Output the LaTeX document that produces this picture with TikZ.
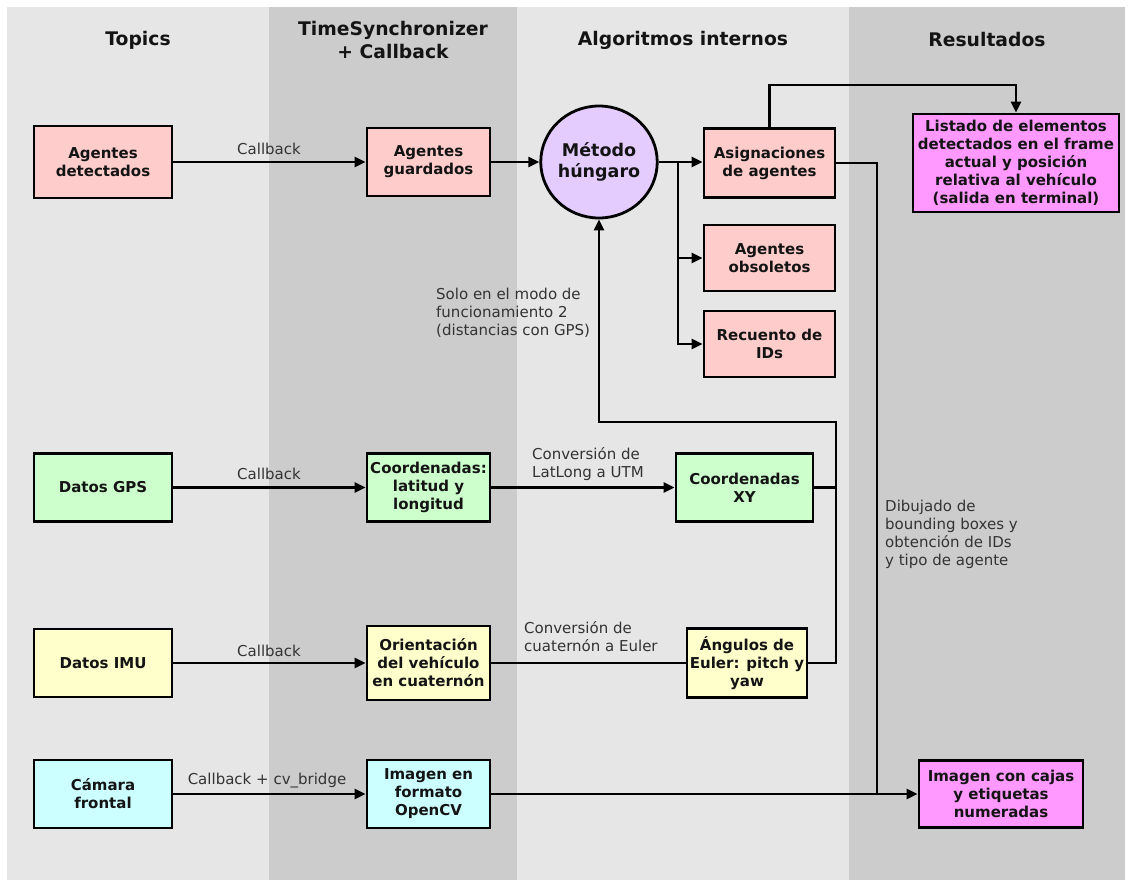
\documentclass[tikz,border=0pt]{standalone}
\usepackage{fontspec}
\setmainfont{DejaVu Sans}
\usetikzlibrary{arrows.meta,shapes.geometric}

\definecolor{laneLight}{HTML}{E6E6E6}
\definecolor{laneDark}{HTML}{CCCCCC}
\definecolor{agentFill}{HTML}{FFCCCC}
\definecolor{methodFill}{HTML}{E5CCFF}
\definecolor{gpsFill}{HTML}{CCFFCC}
\definecolor{imuFill}{HTML}{FFFFCC}
\definecolor{camFill}{HTML}{CCFFFF}
\definecolor{outFill}{HTML}{FF99FF}
\definecolor{labelText}{HTML}{333333}
\definecolor{boxText}{HTML}{141414}

\tikzset{
  box/.style={draw=black, line width=2.8pt, align=center, text=boxText,
    font=\bfseries\fontsize{15}{18}\selectfont, inner sep=1pt},
  hdr/.style={align=center, text=boxText, font=\bfseries\fontsize{18.75}{22.5}\selectfont},
  lbl/.style={text=labelText, font=\fontsize{15}{18}\selectfont, inner sep=0pt},
  ln/.style={line width=2.5pt, draw=black},
  arr/.style={ln, -{Triangle[length=11pt,width=10pt]}},
}

\begin{document}
\begin{tikzpicture}[x=1pt,y=-1pt]
\useasboundingbox (0,0) rectangle (1132,883);
\fill[white] (0,0) rectangle (1132,883);

% swimlanes
\fill[laneLight] (7,7) rectangle (269,880);
\fill[laneDark] (269,7) rectangle (517,880);
\fill[laneLight] (517,7) rectangle (849,880);
\fill[laneDark] (849,7) rectangle (1125,880);

% lane titles
\node[hdr] (hTopics) at (138,40) {Topics};
\node[hdr] (hSync) at (393,40) {TimeSynchronizer\\+ Callback};
\node[hdr] (hAlg) at (683,40) {Algoritmos internos};
\node[hdr] (hRes) at (987,40) {Resultados};

% detection row
\node[box, fill=agentFill, minimum width=138pt, minimum height=72pt] (det) at (103,162) {Agentes\\detectados};
\node[box, fill=agentFill, minimum width=123pt, minimum height=68pt] (guard) at (428.5,162) {Agentes\\guardados};
\node[box, ellipse, fill=methodFill, minimum width=110pt, minimum height=112pt, inner sep=0pt,
  font=\bfseries\fontsize{17.5}{20.5}\selectfont] (met) at (599,162) {Método\\húngaro};
\node[box, fill=agentFill, minimum width=131pt, minimum height=69pt] (asig) at (769.5,163) {Asignaciones\\de agentes};
\node[box, fill=agentFill, minimum width=131pt, minimum height=66pt] (obs) at (769.5,258) {Agentes\\obsoletos};
\node[box, fill=agentFill, minimum width=131pt, minimum height=66pt] (rec) at (769.5,344) {Recuento de\\IDs};
\node[box, fill=outFill, minimum width=206pt, minimum height=98pt] (list) at (1016,163) {Listado de elementos\\detectados en el frame\\actual y posición\\relativa al vehículo\\(salida en terminal)};

% GPS row
\node[box, fill=gpsFill, minimum width=138pt, minimum height=68pt] (gps) at (103,487.5) {Datos GPS};
\node[box, fill=gpsFill, minimum width=123pt, minimum height=68pt] (coord) at (428.5,487.5) {Coordenadas:\\latitud y\\longitud};
\node[box, fill=gpsFill, minimum width=137pt, minimum height=68pt] (xy) at (744.5,487.5) {Coordenadas\\XY};

% IMU row
\node[box, fill=imuFill, minimum width=138pt, minimum height=68pt] (imu) at (103,663) {Datos IMU};
\node[box, fill=imuFill, minimum width=123pt, minimum height=74pt] (ori) at (428.5,663) {Orientación\\del vehículo\\en cuaternón};
\node[box, fill=imuFill, minimum width=120pt, minimum height=69pt] (eul) at (747,663) {Ángulos de\\Euler: pitch y\\yaw};

% camera row
\node[box, fill=camFill, minimum width=138pt, minimum height=68pt] (cam) at (103,794) {Cámara\\frontal};
\node[box, fill=camFill, minimum width=123pt, minimum height=68pt] (img) at (428.5,794) {Imagen en\\formato\\OpenCV};
\node[box, fill=outFill, minimum width=164pt, minimum height=67pt] (caj) at (1001,794) {Imagen con cajas\\y etiquetas\\numeradas};

% edge labels
\node[lbl] (l1) at (269,149) {Callback};
\node[lbl] (l2) at (269,474) {Callback};
\node[lbl] (l3) at (269,651) {Callback};
\node[lbl] (l4) at (267,781) {Callback + cv\_bridge};
\node[lbl, anchor=west, align=left] (l5) at (532,464) {Conversión de\\LatLong a UTM};
\node[lbl, anchor=west, align=left] (l6) at (524,636.5) {Conversión de\\cuaternón a Euler};
\node[lbl, anchor=west, align=left] (l7) at (436,313) {Solo en el modo de\\funcionamiento 2\\(distancias con GPS)};
\node[lbl, anchor=west, align=left] (l8) at (885,534) {Dibujado de\\bounding boxes y\\obtención de IDs\\y tipo de agente};

% junction points
\coordinate (br) at (678,162);
\coordinate (tp) at (1016,85);
\coordinate (jn) at (877,794);
\coordinate (rj) at (836,422);

% connectors
\draw[arr] (det) -- (guard);
\draw[arr] (guard) -- (met);
\draw[arr] (met.east) -- (met.east -| asig.west);
\draw[arr] (br) |- (obs.west);
\draw[arr] (br) |- (rec.west);
\draw[arr] (asig.north) |- (tp) -- (list.north);
\draw[ln] (asig.east) -| (jn);
\draw[arr] (img) -- (caj);
\draw[arr] (cam) -- (img);

\draw[arr] (gps) -- (coord);
\draw[arr] (coord) -- (xy);
\draw[ln] (xy.east) -- (xy.east -| rj);

\draw[arr] (imu) -- (ori);
\draw[ln] (ori) -- (eul);
\draw[arr] (eul.east) -| (rj) -| (met.south);
\end{tikzpicture}
\end{document}
